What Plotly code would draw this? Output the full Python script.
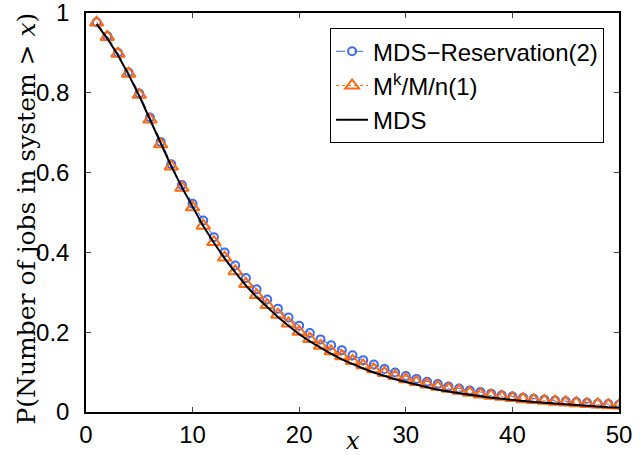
import plotly.graph_objects as go

x_vals = list(range(1, 51))

mds_reservation = [
    0.977, 0.942, 0.900, 0.851, 0.798, 0.738, 0.677, 0.621, 0.569, 0.522,
    0.480, 0.438, 0.400, 0.367, 0.336, 0.3075, 0.282, 0.259, 0.237, 0.216,
    0.198, 0.182, 0.1675, 0.155, 0.142, 0.130, 0.119, 0.108, 0.099, 0.090,
    0.083, 0.076, 0.070, 0.064, 0.059, 0.054, 0.050, 0.046, 0.042, 0.039,
    0.036, 0.033, 0.031, 0.029, 0.027, 0.025, 0.023, 0.021, 0.020, 0.018,
]

mkmn = [
    0.976, 0.940, 0.898, 0.848, 0.795, 0.733, 0.671, 0.615, 0.562, 0.513,
    0.467, 0.426, 0.387, 0.353, 0.321, 0.293, 0.268, 0.244, 0.222, 0.201,
    0.183, 0.166, 0.152, 0.140, 0.128, 0.117, 0.107, 0.098, 0.090, 0.082,
    0.075, 0.069, 0.063, 0.058, 0.053, 0.048, 0.044, 0.041, 0.038, 0.035,
    0.032, 0.030, 0.028, 0.026, 0.024, 0.022, 0.020, 0.019, 0.017, 0.016,
]

mds = [
    0.972, 0.936, 0.894, 0.845, 0.792, 0.732, 0.672, 0.616, 0.563, 0.513,
    0.466, 0.424, 0.385, 0.350, 0.317, 0.288, 0.262, 0.238, 0.216, 0.195,
    0.177, 0.161, 0.146, 0.132, 0.120, 0.109, 0.099, 0.090, 0.082, 0.075,
    0.068, 0.062, 0.056, 0.051, 0.047, 0.043, 0.039, 0.036, 0.033, 0.030,
    0.027, 0.025, 0.023, 0.021, 0.019, 0.017, 0.015, 0.014, 0.012, 0.011,
]

series_names = ["MDS\u2212Reservation(2)", "M<sup>k</sup>/M/n(1)", "MDS"]
x_ticks = [0, 10, 20, 30, 40, 50]
y_ticks = [0, 0.2, 0.4, 0.6, 0.8, 1]
y_tick_text = ["0", "0.2", "0.4", "0.6", "0.8", "1"]
x_title = "<i>x</i>"
y_title = "P(Number of jobs in system &gt; <i>x</i>)"

fig = go.Figure()
fig.add_trace(go.Scatter(
    x=x_vals, y=mds_reservation, name=series_names[0], mode="lines+markers",
    line=dict(color="#3a6cf4", width=1, dash="dash"),
    marker=dict(symbol="circle-open", size=8, color="#3a6cf4", line=dict(width=2)),
))
fig.add_trace(go.Scatter(
    x=x_vals, y=mkmn, name=series_names[1], mode="lines+markers",
    line=dict(color="#ff6a10", width=1, dash="dot"),
    marker=dict(symbol="triangle-up-open", size=12, color="#ff6a10", line=dict(width=2)),
))
fig.add_trace(go.Scatter(
    x=x_vals, y=mds, name=series_names[2], mode="lines",
    line=dict(color="black", width=2),
))

sans = "Liberation Sans, Arial, sans-serif"
serif = "DejaVu Serif, serif"
axis_font = dict(family=sans, size=24, color="black")
fig.update_layout(
    width=642, height=455,
    margin=dict(l=86, r=23, t=13, b=43),
    paper_bgcolor="white", plot_bgcolor="white",
    font=axis_font,
    showlegend=True,
    legend=dict(
        x=0.972, y=0.962, xanchor="right", yanchor="top",
        bgcolor="white", bordercolor="black", borderwidth=1,
        font=dict(family=sans, size=24, color="black"),
        itemwidth=32, tracegroupgap=0,
    ),
    xaxis=dict(
        range=[0, 50], tickvals=x_ticks, ticks="inside", ticklen=5,
        showline=True, linecolor="black", linewidth=1.5, mirror="ticks",
        showgrid=False, zeroline=False, tickfont=axis_font, automargin=False,
        ticklabeloverflow="allow",
    ),
    yaxis=dict(
        range=[0, 1], tickvals=y_ticks, ticktext=y_tick_text, ticks="inside", ticklen=5,
        showline=True, linecolor="black", linewidth=1.5, mirror="ticks",
        showgrid=False, zeroline=False, tickfont=axis_font, ticklabelstandoff=10,
        automargin=False, ticklabeloverflow="allow",
    ),
    annotations=[
        dict(text=x_title, xref="paper", yref="paper", x=0.5, y=0,
             xanchor="center", yanchor="middle", yshift=-29, showarrow=False,
             font=dict(family=serif, size=24, color="black")),
        dict(text=y_title, xref="paper", yref="paper", x=0, y=0.5,
             xanchor="center", yanchor="middle", xshift=-60, yshift=-6,
             textangle=-90, showarrow=False,
             font=dict(family=serif, size=25, color="black")),
    ],
)

fig.write_html("out.html", config={"displayModeBar": False},
               post_script="document.body.style.margin='0';")
